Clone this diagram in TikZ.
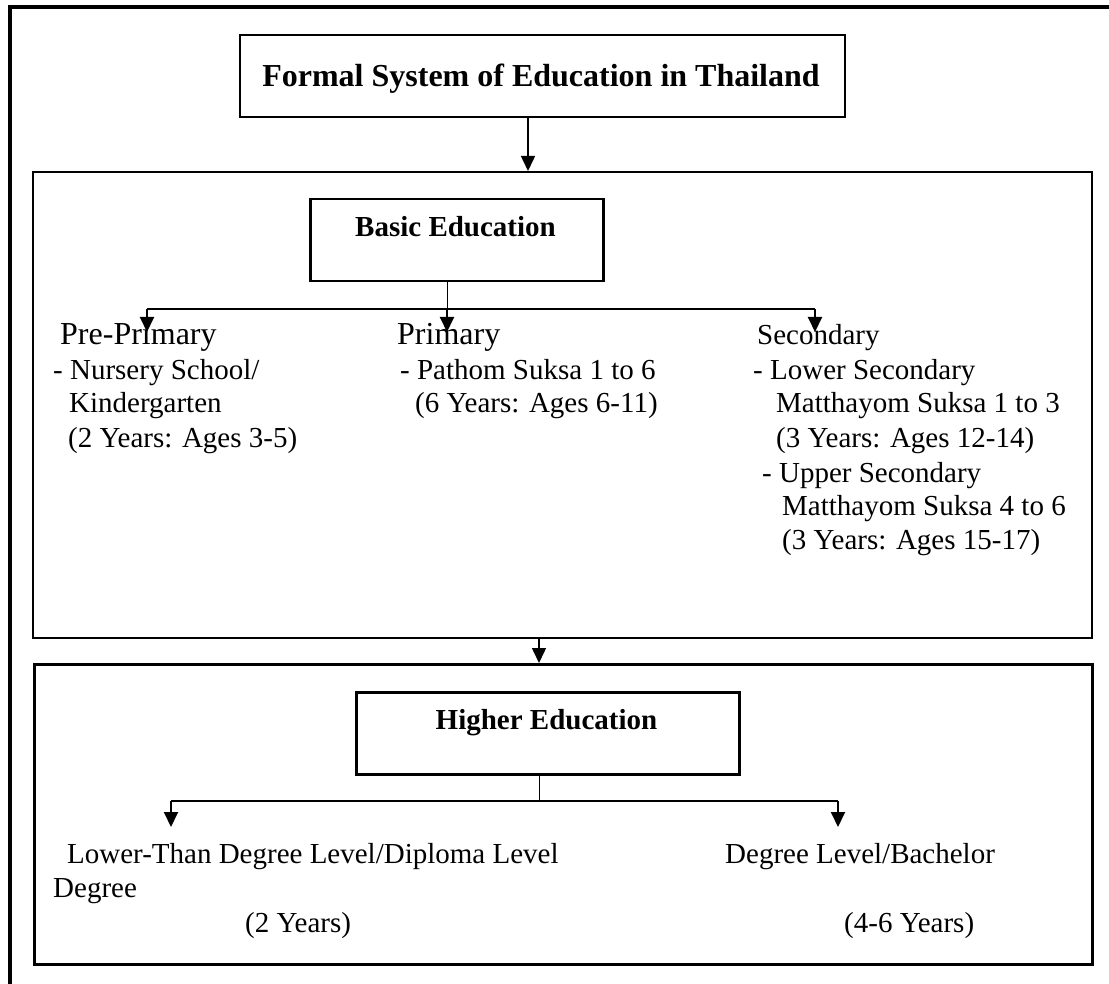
\documentclass[tikz,border=0pt]{standalone}
\usepackage{fontspec}
\setmainfont{Liberation Serif}
\usetikzlibrary{arrows.meta}
\begin{document}
\begin{tikzpicture}[x=1pt,y=-1pt,
  box/.style={draw, line width=#1, inner sep=0pt, anchor=north west},
  box/.default=2pt,
  txt/.style={anchor=base west, inner sep=0pt, font=\fontsize{29}{34}\selectfont},
  head/.style={anchor=base west, inner sep=0pt, font=\fontsize{32}{36}\selectfont},
  boxtitle/.style={anchor=base, inner sep=0pt, font=\fontsize{29}{34}\selectfont\bfseries},
  tip/.style={-{Triangle[length=15pt,width=14pt]}},
  stem/.style={line width=1pt},
  bar/.style={line width=2pt},
]
\useasboundingbox (0,0) rectangle (1109,984);

% frame of the page (top and left edges only)
\draw[line width=4pt] (10,984) -- (10,7) -- (1109,7);

% title box
\node[box=2pt, minimum width=605pt, minimum height=82pt] (title) at (239,34) {};
\node[anchor=base, inner sep=0pt, font=\fontsize{32}{36}\selectfont\bfseries] (titletext) at (541,87)
  {Formal System of Education in Thailand};

% basic education panel
\node[box=2pt, minimum width=1059pt, minimum height=466pt] (basic) at (32,171) {};
\node[box=2.5pt, minimum width=293pt, minimum height=82pt] (be) at (309,198) {};
\node[boxtitle] (betext) at (455.5,237) {Basic Education};

% higher education panel
\node[box=3pt, minimum width=1058pt, minimum height=300pt] (higher) at (33,663) {};
\node[box=2.5pt, minimum width=383pt, minimum height=82pt] (he) at (355,691) {};
\node[boxtitle] (hetext) at (546.5,729) {Higher Education};

% junction points
\coordinate (tj) at (528,0);
\coordinate (bj) at (447,309);
\coordinate (bl) at (147,309);
\coordinate (br) at (815,309);
\coordinate (pre) at (147,332);
\coordinate (pri) at (447,332);
\coordinate (sec) at (815,332);
\coordinate (mj) at (539,0);
\coordinate (hj) at (539,801);
\coordinate (hl) at (171,801);
\coordinate (hr) at (838,801);
\coordinate (dip) at (171,827);
\coordinate (deg) at (838,827);

% connectors
\draw[line width=1.5pt, tip] (title.south -| tj) -- (basic.north -| tj);
\draw[stem] (be.south -| bj) -- (bj);
\draw[bar] (bl) -- (br);
\draw[bar, tip] (bl) -- (pre);
\draw[bar, tip] (bj) -- (pri);
\draw[bar, tip] (br) -- (sec);
\draw[line width=1.5pt, tip] (basic.south -| mj) -- (higher.north -| mj);
\draw[stem] (he.south -| hj) -- (hj);
\draw[bar] (hl) -- (hr);
\draw[bar, tip] (hl) -- (dip);
\draw[bar, tip] (hr) -- (deg);

% pre-primary
\node[head] (pp) at (60,345) {Pre-Primary};
\node[txt] (pp1) at (53,380) {- Nursery School/};
\node[txt] (pp2) at (69,413) {Kindergarten};
\node[txt] (pp3) at (68,447) {(2 Years: Ages 3-5)};

% primary
\node[head] (pr) at (397,345) {Primary};
\node[txt] (pr1) at (400,380) {- Pathom Suksa 1 to 6};
\node[txt] (pr2) at (415,413) {(6 Years: Ages 6-11)};

% secondary
\node[txt] (sc) at (757,345) {Secondary};
\node[txt] (sc1) at (753,380) {- Lower Secondary};
\node[txt] (sc2) at (776,413) {Matthayom Suksa 1 to 3};
\node[txt] (sc3) at (776,447) {(3 Years: Ages 12-14)};
\node[txt] (sc4) at (762,482) {- Upper Secondary};
\node[txt] (sc5) at (782,515) {Matthayom Suksa 4 to 6};
\node[txt] (sc6) at (782,549) {(3 Years: Ages 15-17)};

% higher education outcomes
\node[txt] (dp1) at (67,863) {Lower-Than Degree Level/Diploma Level};
\node[txt] (dp2) at (53,897) {Degree};
\node[txt] (dp3) at (245,932) {(2 Years)};
\node[txt] (dg1) at (725,863) {Degree Level/Bachelor};
\node[txt] (dg2) at (844,932) {(4-6 Years)};
\end{tikzpicture}
\end{document}
